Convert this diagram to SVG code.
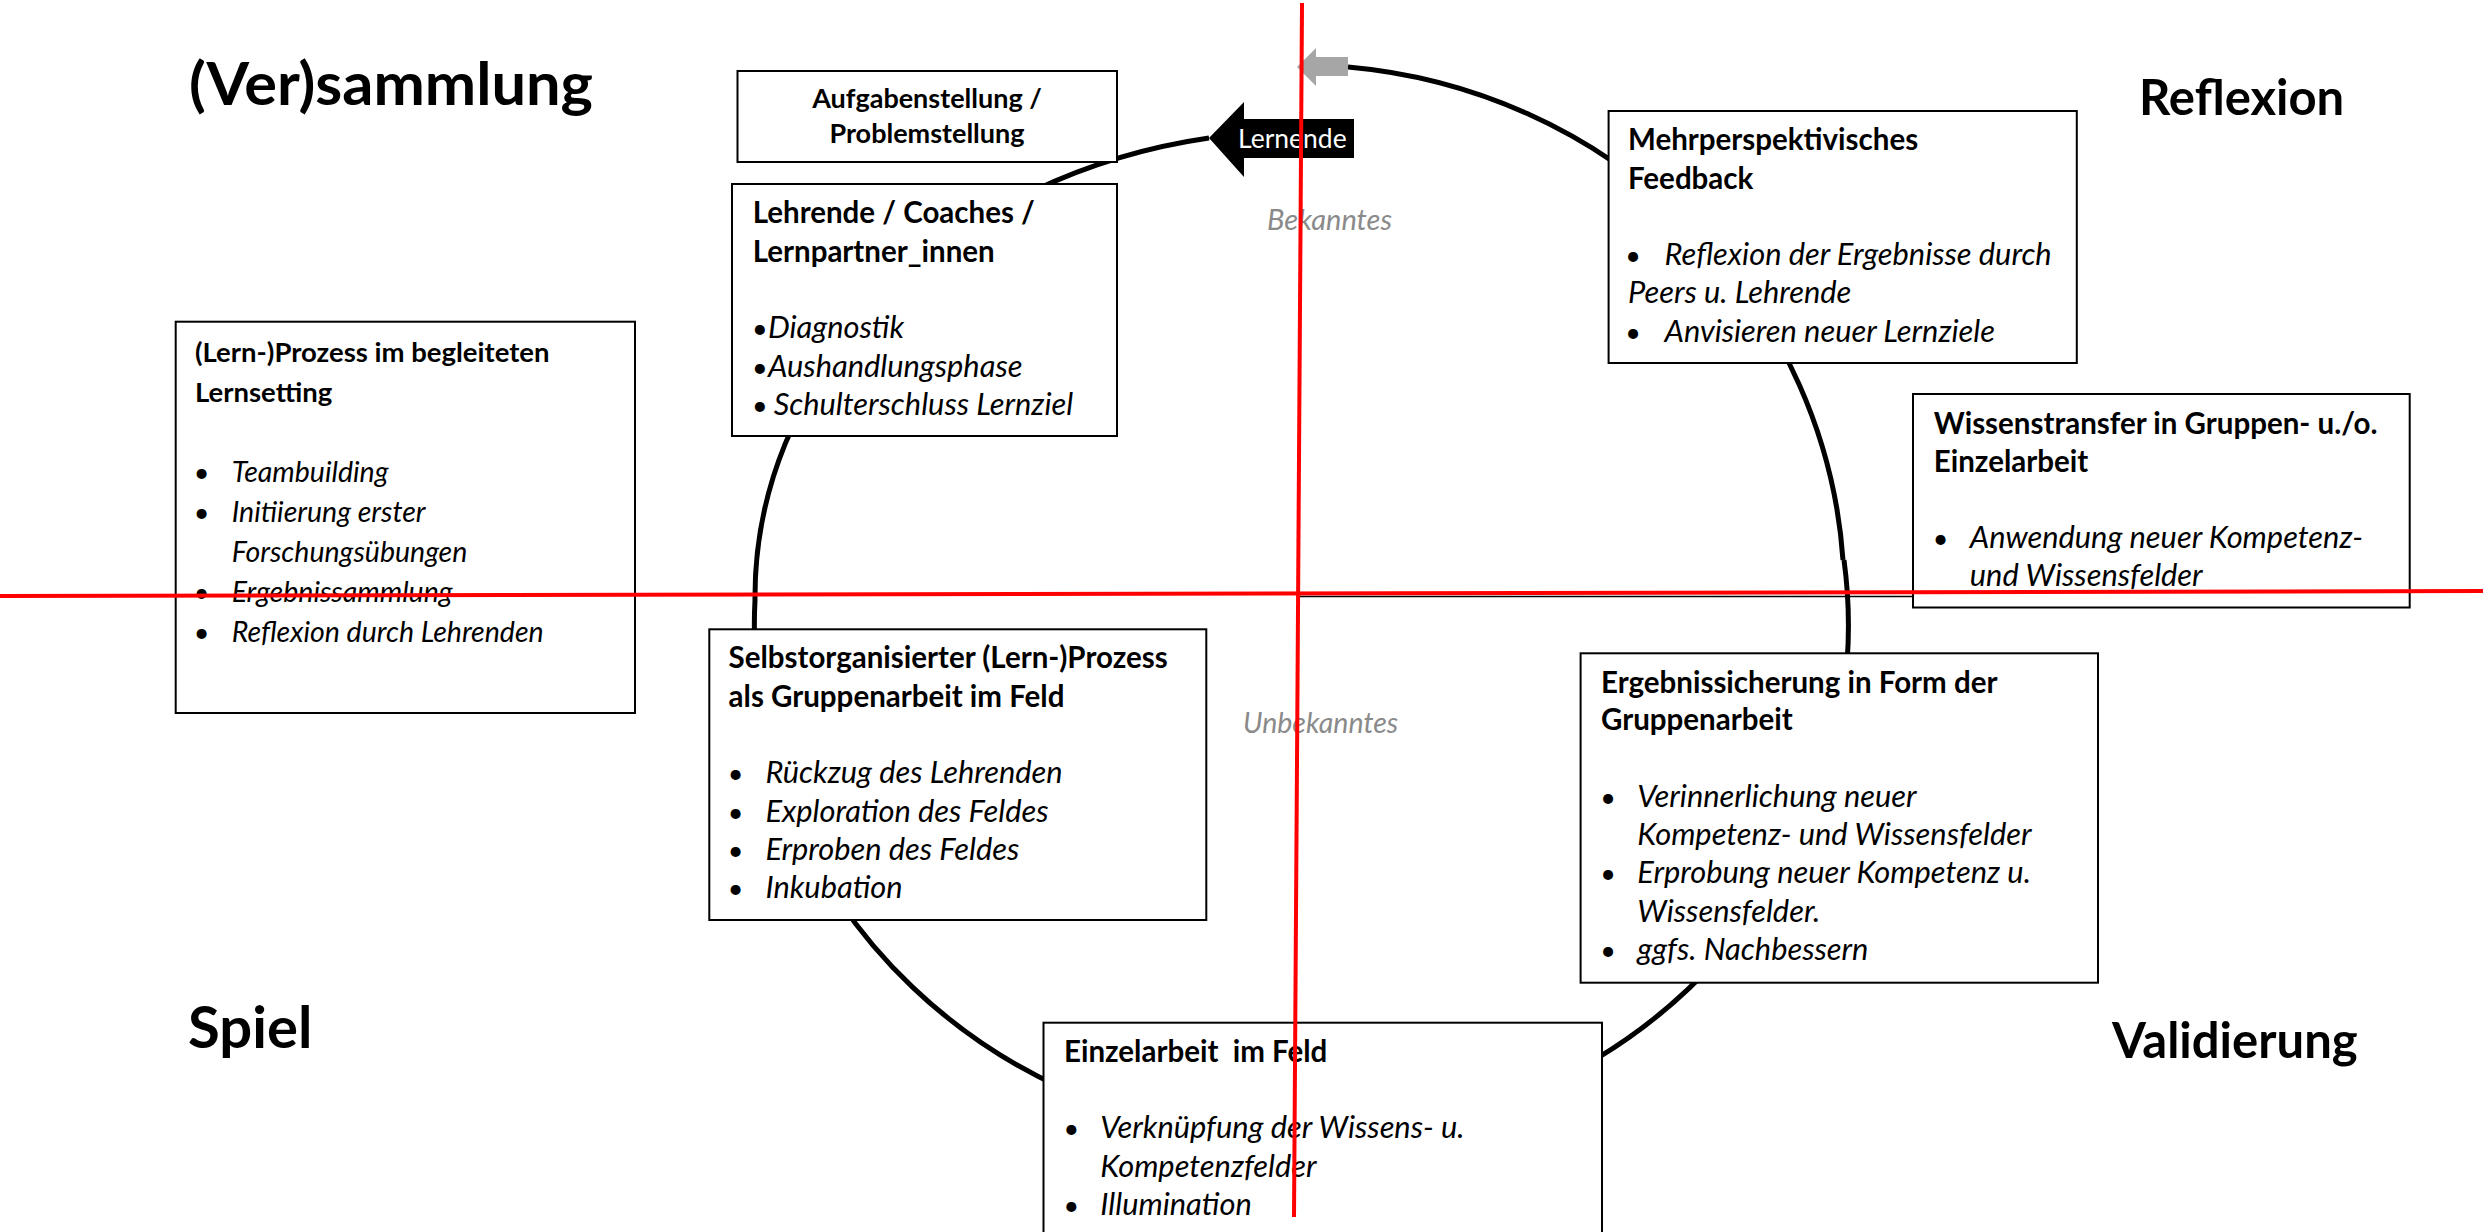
<svg xmlns="http://www.w3.org/2000/svg" width="2483" height="1232" viewBox="0 0 2483 1232">
<style>
  .box{fill:#fff;stroke:#000;stroke-width:2}
  .arc{fill:none;stroke:#000;stroke-width:5}
  .red{stroke:#ff0000;stroke-width:4;fill:none}
  .axis{stroke:#000;stroke-width:1.5;fill:none}
  text{font-family:Lato,"Open Sans","Liberation Sans",sans-serif;font-size:29.5px;fill:#000}
  .b{font-weight:700}
  .i{font-style:italic;font-size:30.8px}
  .bu{text-anchor:middle;font-size:27px}
  .c{text-anchor:middle}
  .sm .b{font-size:27.5px}
  .sm .i{font-size:28.5px}
  .big{font-size:60px;font-weight:700}
  .big2{font-size:49px;font-weight:700}
  .grey{fill:#8a8a8a;font-style:italic;font-size:29px}
  .white{fill:#fff}
</style>
<rect width="2483" height="1232" fill="#fff"/>

<g id="connectors">
  <line class="axis" x1="1298" y1="596.5" x2="1913" y2="596.5"/>
  <path class="arc" d="M1348 67 A545 531 0 0 1 1843 560"/>
  <path class="arc" d="M1844 560 A547 515 0 1 1 755 600 A545 465 0 0 1 1209 138"/>
</g>

<g id="arrow-lernende">
  <polygon points="1209,138 1244,102 1244,119 1354,119 1354,158 1244,158 1244,177" fill="#000"/>
  <text x="1238" y="148" class="white" style="font-size:26.5px">Lernende</text>
</g>
<g id="arrow-grey">
  <polygon points="1297,67 1316,48 1316,57 1348,57 1348,76 1316,76 1316,86" fill="#a6a6a6"/>
</g>

<g id="label-versammlung"><text x="189" y="105" class="big" textLength="404" lengthAdjust="spacingAndGlyphs">(Ver)sammlung</text></g>
<g id="label-spiel"><text x="188" y="1048" class="big" style="font-size:58px">Spiel</text></g>
<g id="label-reflexion"><text x="2139" y="115" class="big2">Reflexion</text></g>
<g id="label-validierung"><text x="2112" y="1058" class="big2">Validierung</text></g>
<g id="label-bekanntes"><text x="1267" y="230" class="grey">Bekanntes</text></g>
<g id="label-unbekanntes"><text x="1243" y="733" class="grey" style="font-size:28.5px">Unbekanntes</text></g>

<g id="node-aufgabe">
  <rect class="box" x="737.5" y="71" width="379.5" height="91"/>
  <text x="927" y="108" class="b c" style="font-size:27px">Aufgabenstellung /</text>
  <text x="927" y="143" class="b c" style="font-size:27px">Problemstellung</text>
</g>

<g id="node-lehrende">
  <rect class="box" x="732" y="184" width="385" height="252"/>
  <text x="752.7" y="223" class="b">Lehrende / Coaches /</text>
  <text x="752.7" y="262" class="b">Lernpartner_innen</text>
  <text x="752" y="338" style="font-size:27px">•</text><text x="768" y="338" class="i">Diagnostik</text>
  <text x="752" y="377" style="font-size:27px">•</text><text x="768" y="377" class="i">Aushandlungsphase</text>
  <text x="752" y="415" style="font-size:27px">•</text><text x="773.7" y="415" class="i">Schulterschluss Lernziel</text>
</g>

<g id="node-lernprozess" class="sm">
  <rect class="box" x="175.7" y="321.7" width="459.3" height="391.3"/>
  <text x="195" y="362" class="b">(Lern-)Prozess im begleiteten</text>
  <text x="195" y="402" class="b">Lernsetting</text>
  <text x="201.7" y="482" class="bu">•</text><text x="231.7" y="482" class="i">Teambuilding</text>
  <text x="201.7" y="522" class="bu">•</text><text x="231.7" y="522" class="i">Initiierung erster</text>
  <text x="231.7" y="562" class="i">Forschungsübungen</text>
  <text x="201.7" y="602" class="bu">•</text><text x="231.7" y="602" class="i">Ergebnissammlung</text>
  <text x="201.7" y="642" class="bu">•</text><text x="231.7" y="642" class="i">Reflexion durch Lehrenden</text>
</g>

<g id="node-feedback">
  <rect class="box" x="1608.6" y="111" width="468.2" height="252"/>
  <text x="1628" y="150.4" class="b">Mehrperspektivisches</text>
  <text x="1628" y="189" class="b">Feedback</text>
  <text x="1633" y="265" class="bu">•</text><text x="1664.5" y="265" class="i">Reflexion der Ergebnisse durch</text>
  <text x="1628" y="303" class="i">Peers u. Lehrende</text>
  <text x="1633" y="342" class="bu">•</text><text x="1664.5" y="342" class="i">Anvisieren neuer Lernziele</text>
</g>

<g id="node-wissenstransfer">
  <rect class="box" x="1913" y="394" width="496.7" height="213.5"/>
  <text x="1933.8" y="433.6" class="b">Wissenstransfer in Gruppen- u./o.</text>
  <text x="1933.8" y="472" class="b">Einzelarbeit</text>
  <text x="1940.7" y="548" class="bu">•</text><text x="1969.8" y="548" class="i">Anwendung neuer Kompetenz-</text>
  <text x="1969.8" y="585.5" class="i">und Wissensfelder</text>
</g>

<g id="node-selbstorganisiert">
  <rect class="box" x="709.3" y="629.3" width="497" height="290.7"/>
  <text x="728.6" y="668.3" class="b">Selbstorganisierter (Lern-)Prozess</text>
  <text x="728.6" y="706.7" class="b">als Gruppenarbeit im Feld</text>
  <text x="735.6" y="783.3" class="bu">•</text><text x="765.4" y="783.3" class="i">Rückzug des Lehrenden</text>
  <text x="735.6" y="821.7" class="bu">•</text><text x="765.4" y="821.7" class="i">Exploration des Feldes</text>
  <text x="735.6" y="860" class="bu">•</text><text x="765.4" y="860" class="i">Erproben des Feldes</text>
  <text x="735.6" y="898.3" class="bu">•</text><text x="765.4" y="898.3" class="i">Inkubation</text>
</g>

<g id="node-ergebnissicherung">
  <rect class="box" x="1580.6" y="653.3" width="517.4" height="329.4"/>
  <text x="1601" y="692.7" class="b">Ergebnissicherung in Form der</text>
  <text x="1601" y="730" class="b">Gruppenarbeit</text>
  <text x="1608" y="806.7" class="bu">•</text><text x="1637.3" y="806.7" class="i">Verinnerlichung neuer</text>
  <text x="1637.3" y="845" class="i">Kompetenz- und Wissensfelder</text>
  <text x="1608" y="883.3" class="bu">•</text><text x="1637.3" y="883.3" class="i">Erprobung neuer Kompetenz u.</text>
  <text x="1637.3" y="921.7" class="i">Wissensfelder.</text>
  <text x="1608" y="960" class="bu">•</text><text x="1637.3" y="960" class="i">ggfs. Nachbessern</text>
</g>

<g id="node-einzelarbeit">
  <rect class="box" x="1043.5" y="1022.7" width="558.5" height="230"/>
  <text x="1064" y="1061.7" class="b" xml:space="preserve">Einzelarbeit  im Feld</text>
  <text x="1071.3" y="1138.3" class="bu">•</text><text x="1100.3" y="1138.3" class="i">Verknüpfung der Wissens- u.</text>
  <text x="1100.3" y="1176.7" class="i">Kompetenzfelder</text>
  <text x="1071.3" y="1215" class="bu">•</text><text x="1100.3" y="1215" class="i">Illumination</text>
</g>

<g id="axes">
  <line class="red" x1="1302" y1="3" x2="1294" y2="1217"/>
  <line class="red" x1="0" y1="596" x2="2483" y2="591"/>
</g>
</svg>
